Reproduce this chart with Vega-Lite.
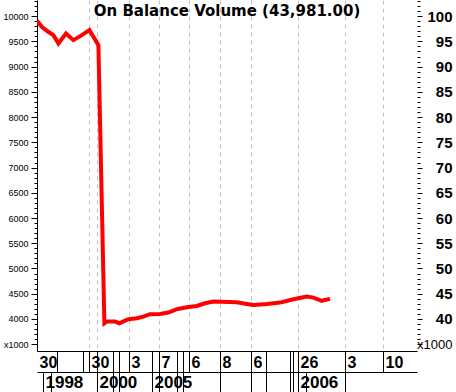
{
  "$schema": "https://vega.github.io/schema/vega-lite/v6.json",
  "width": 380,
  "height": 351,
  "autosize": {"type": "none"},
  "padding": {"left": 37, "top": 0, "right": 39, "bottom": 41},
  "background": "white",
  "view": {"stroke": null},
  "title": {
    "text": "On Balance Volume (43,981.00)",
    "font": "DejaVu Sans",
    "fontSize": 15,
    "fontWeight": "bold",
    "color": "black",
    "anchor": "middle",
    "frame": "group",
    "baseline": "top",
    "orient": "top",
    "offset": -25
  },
  "data": {
    "values": [
      {"i": 0, "v": 9907},
      {"i": 2.4, "v": 9789},
      {"i": 5.6, "v": 9690},
      {"i": 8.2, "v": 9624},
      {"i": 10.7, "v": 9460},
      {"i": 14.5, "v": 9657},
      {"i": 18.2, "v": 9525},
      {"i": 22.4, "v": 9624},
      {"i": 26.2, "v": 9723},
      {"i": 28.2, "v": 9590},
      {"i": 30.7, "v": 9426},
      {"i": 33.7, "v": 3915},
      {"i": 34.9, "v": 3948},
      {"i": 39, "v": 3948},
      {"i": 41.2, "v": 3915},
      {"i": 44, "v": 3967},
      {"i": 45.7, "v": 3995},
      {"i": 49.9, "v": 4015},
      {"i": 53.2, "v": 4047},
      {"i": 56.5, "v": 4094},
      {"i": 61.5, "v": 4100},
      {"i": 65.7, "v": 4126},
      {"i": 69.9, "v": 4193},
      {"i": 74.9, "v": 4232},
      {"i": 79.9, "v": 4258},
      {"i": 84, "v": 4311},
      {"i": 88.2, "v": 4344},
      {"i": 99.9, "v": 4332},
      {"i": 104.9, "v": 4298},
      {"i": 108.2, "v": 4278},
      {"i": 114.9, "v": 4298},
      {"i": 121.5, "v": 4324},
      {"i": 128.2, "v": 4390},
      {"i": 134.9, "v": 4443},
      {"i": 138.2, "v": 4423},
      {"i": 142.4, "v": 4357},
      {"i": 144, "v": 4377},
      {"i": 146.5, "v": 4398}
    ]
  },
  "resolve": {
    "scale": {"x": "shared", "y": "shared"},
    "axis": {"x": "independent", "y": "independent"}
  },
  "layer": [
    {
      "mark": {"type": "line", "color": "#ff0000", "strokeWidth": 4, "clip": true},
      "encoding": {
        "x": {
          "field": "i",
          "type": "quantitative",
          "scale": {"domain": [0, 190], "nice": false, "zero": false},
          "axis": {
            "orient": "bottom",
            "title": null,
            "values": [0, 10, 23, 26, 30, 38, 41, 46, 57.5, 61, 70, 73, 76, 91.5, 107, 114.5, 126.5, 128, 130.5, 154, 173],
            "labelExpr": "datum.value == 0 ? '30' : datum.value == 26 ? '30' : datum.value == 46 ? '3' : datum.value == 61 ? '7' : datum.value == 76 ? '6' : datum.value == 91.5 ? '8' : datum.value == 107 ? '6' : datum.value == 130.5 ? '26' : datum.value == 154 ? '3' : datum.value == 173 ? '10' : ''",
            "tickSize": 21,
            "tickColor": "black",
            "tickOpacity": {"condition": {"test": "datum.value == 0", "value": 0}, "value": 1},
            "domainColor": "black",
            "labelAlign": "left",
            "labelBaseline": "top",
            "labelPadding": -18,
            "labelOffset": 2,
            "labelFont": "Liberation Sans",
            "labelFontSize": 16,
            "labelFontWeight": "bold",
            "labelColor": "black",
            "labelOverlap": false,
            "labelBound": false,
            "labelFlush": false,
            "grid": true,
            "gridColor": "#c0c0c0",
            "gridDash": [4, 4],
            "gridWidth": 1,
            "gridOpacity": {"condition": {"test": "indexof([26, 30, 46, 61, 76, 91.5, 107, 130.5, 154, 173], datum.value) >= 0", "value": 1}, "value": 0}
          }
        },
        "y": {
          "field": "v",
          "type": "quantitative",
          "scale": {"domain": [3365, 10320], "nice": false, "zero": false},
          "axis": {
            "orient": "left",
            "title": null,
            "grid": false,
            "values": [3500,3600,3700,3800,3900,4000,4100,4200,4300,4400,4500,4600,4700,4800,4900,5000,5100,5200,5300,5400,5500,5600,5700,5800,5900,6000,6100,6200,6300,6400,6500,6600,6700,6800,6900,7000,7100,7200,7300,7400,7500,7600,7700,7800,7900,8000,8100,8200,8300,8400,8500,8600,8700,8800,8900,9000,9100,9200,9300,9400,9500,9600,9700,9800,9900,10000,10100,10200,10300],
            "labelExpr": "datum.value % 500 == 0 ? (datum.value == 3500 ? 'x1000' : format(datum.value, 'd')) : ''",
            "tickSize": {"condition": {"test": "datum.value % 500 == 0", "value": 6}, "value": 3},
            "tickColor": "black",
            "domainColor": "black",
            "labelPadding": 3,
            "labelFont": "Liberation Sans",
            "labelFontSize": 9,
            "labelColor": "black",
            "labelOverlap": false,
            "labelBound": false,
            "labelFlush": false
          }
        }
      }
    },
    {
      "mark": {"type": "point", "opacity": 0},
      "encoding": {
        "x": {
          "field": "i",
          "type": "quantitative",
          "axis": {
            "orient": "bottom",
            "offset": 21,
            "title": null,
            "values": [3, 7, 30, 38, 41, 57.5, 61, 70, 73, 91.5, 107, 114.5, 126.5, 128, 130.5, 134.5, 154],
            "labelExpr": "datum.value == 3 ? '1998' : datum.value == 30 ? '2000' : datum.value == 57.5 ? '2005' : datum.value == 130.5 ? '2006' : ''",
            "tickSize": 20,
            "tickColor": "black",
            "domainColor": "black",
            "labelAlign": "left",
            "labelBaseline": "top",
            "labelPadding": -18,
            "labelOffset": 2,
            "labelFont": "Liberation Sans",
            "labelFontSize": 17,
            "labelFontWeight": "bold",
            "labelColor": "black",
            "labelOverlap": false,
            "labelBound": false,
            "labelFlush": false,
            "grid": false
          }
        },
        "y": {
          "field": "v",
          "type": "quantitative",
          "axis": {
            "orient": "right",
            "title": null,
            "grid": false,
            "domain": false,
            "values": [3500,3600,3700,3800,3900,4000,4100,4200,4300,4400,4500,4600,4700,4800,4900,5000,5100,5200,5300,5400,5500,5600,5700,5800,5900,6000,6100,6200,6300,6400,6500,6600,6700,6800,6900,7000,7100,7200,7300,7400,7500,7600,7700,7800,7900,8000,8100,8200,8300,8400,8500,8600,8700,8800,8900,9000,9100,9200,9300,9400,9500,9600,9700,9800,9900,10000,10100,10200,10300],
            "labelExpr": "datum.value % 500 == 0 ? (datum.value == 3500 ? 'x1000' : format(datum.value / 100, 'd')) : ''",
            "tickSize": {"condition": {"test": "datum.value % 500 == 0", "value": 5}, "value": 3},
            "tickColor": "black",
            "labelAlign": "right",
            "labelPadding": 30,
            "labelFont": "Liberation Sans",
            "labelFontSize": {"condition": {"test": "datum.value == 3500", "value": 13}, "value": 15},
            "labelFontWeight": {"condition": {"test": "datum.value == 3500", "value": "normal"}, "value": "bold"},
            "labelColor": "black",
            "labelOverlap": false,
            "labelBound": false,
            "labelFlush": false
          }
        }
      }
    }
  ]
}
